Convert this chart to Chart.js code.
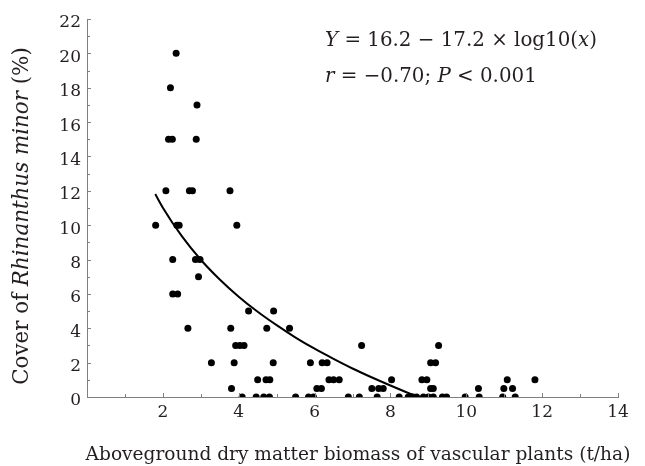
<!DOCTYPE html>
<html>
<head>
<meta charset="utf-8">
<script src="https://cdn.jsdelivr.net/npm/chart.js@4"></script>
<style>
  html, body { margin: 0; padding: 0; background: #fff; }
  #wrap { width: 645px; height: 466px; }
</style>
</head>
<body>
<div id="wrap"><canvas id="chart" width="645" height="466"></canvas></div>
<script>
// biomass (t/ha) and cover (%) of each plot
const biomass = [
  2.35,
  2.2,
  2.9,
  2.15, 2.25, 2.88,
  2.08, 2.7, 2.78, 3.77,
  1.81, 2.37, 2.43, 3.95,
  2.26, 2.86, 2.98,
  2.94,
  2.26, 2.39,
  4.26, 4.92,
  2.66, 3.79, 4.74, 5.34,
  3.92, 4.03, 4.14, 7.24, 9.27,
  3.28, 3.88, 4.91, 5.89, 6.2, 6.33, 9.06, 9.19,
  4.5, 4.72, 4.82, 6.38, 6.5, 6.65, 8.03, 8.83, 8.96, 11.08, 11.81,
  3.81, 6.06, 6.18, 7.51, 7.69, 7.81, 9.06, 9.13, 10.32, 10.99, 11.22,
  4.09, 4.46, 4.66, 4.81, 5.5, 5.84, 5.97, 6.89, 7.18, 7.65, 8.23, 8.47,
  8.59, 8.69, 8.87, 9.0, 9.13, 9.37, 9.48, 9.97, 10.34, 10.96, 11.29
];
const cover = [
  20,
  18,
  17,
  15, 15, 15,
  12, 12, 12, 12,
  10, 10, 10, 10,
  8, 8, 8,
  7,
  6, 6,
  5, 5,
  4, 4, 4, 4,
  3, 3, 3, 3, 3,
  2, 2, 2, 2, 2, 2, 2, 2,
  1, 1, 1, 1, 1, 1, 1, 1, 1, 1, 1,
  0.5, 0.5, 0.5, 0.5, 0.5, 0.5, 0.5, 0.5, 0.5, 0.5, 0.5,
  0, 0, 0, 0, 0, 0, 0, 0, 0, 0, 0, 0,
  0, 0, 0, 0, 0, 0, 0, 0, 0, 0, 0
];

// fitted curve as drawn on the figure
const fitBiomass = [1.8, 2, 2.5, 3, 3.5, 4, 4.5, 5, 5.5, 6, 6.5, 7, 7.5, 8, 8.5, 8.75];
const fitCover   = [11.81, 11.02, 9.36, 7.99, 6.84, 5.84, 4.96, 4.18, 3.46, 2.81, 2.22, 1.66, 1.15, 0.67, 0.21, 0];

const xTickValues = [2, 4, 6, 8, 10, 12, 14];
const yTickValues = [0, 2, 4, 6, 8, 10, 12, 14, 16, 18, 20, 22];

const FONT = '"DejaVu Serif", "Liberation Serif", serif';
const TEXT = '#231f20';
const AXIS = '#808080';

function drawRuns(ctx, runs, x, y, size) {
  for (const r of runs) {
    ctx.font = (r.i ? 'italic ' : '') + size + 'px ' + FONT;
    ctx.fillText(r.t, x, y);
    x += ctx.measureText(r.t).width;
  }
}
function runsWidth(ctx, runs, size) {
  let w = 0;
  for (const r of runs) {
    ctx.font = (r.i ? 'italic ' : '') + size + 'px ' + FONT;
    w += ctx.measureText(r.t).width;
  }
  return w;
}
// font size that makes a line as wide as in the figure
function fitSize(ctx, runs, width) {
  return 20 * width / runsWidth(ctx, runs, 20);
}

const decor = {
  id: 'decor',
  afterDraw(chart) {
    const { ctx, chartArea, scales: { x, y } } = chart;
    ctx.save();
    ctx.strokeStyle = AXIS;
    ctx.lineWidth = 1;
    // inward ticks, minor at odd values
    for (let v = 1; v <= 14; v++) {
      const px = Math.round(x.getPixelForValue(v)) + 0.5;
      const len = v % 2 ? 3 : 4;
      ctx.beginPath();
      ctx.moveTo(px, chartArea.bottom);
      ctx.lineTo(px, chartArea.bottom - len);
      ctx.stroke();
    }
    for (let v = 1; v <= 22; v++) {
      const py = Math.round(y.getPixelForValue(v)) + 0.5;
      const len = v % 2 ? 3 : 4;
      ctx.beginPath();
      ctx.moveTo(chartArea.left, py);
      ctx.lineTo(chartArea.left + len, py);
      ctx.stroke();
    }

    ctx.fillStyle = TEXT;
    ctx.textBaseline = 'middle';
    ctx.textAlign = 'left';

    // x title
    const xt = [{ t: 'Aboveground dry matter biomass of vascular plants (t/ha)' }];
    let s = fitSize(ctx, xt, 545);
    drawRuns(ctx, xt, 358 - runsWidth(ctx, xt, s) / 2, 455, s);

    // y title
    const yt = [{ t: 'Cover of ' }, { t: 'Rhinanthus minor', i: true }, { t: ' (%)' }];
    s = fitSize(ctx, yt, 338);
    ctx.save();
    ctx.translate(22, 216);
    ctx.rotate(-Math.PI / 2);
    drawRuns(ctx, yt, -runsWidth(ctx, yt, s) / 2, 0, s);
    ctx.restore();

    // equation
    const eq1 = [{ t: 'Y', i: true }, { t: ' = 16.2 \u2212 17.2 \u00d7 log10(' }, { t: 'x', i: true }, { t: ')' }];
    const eq2 = [{ t: 'r', i: true }, { t: ' = \u22120.70; ' }, { t: 'P', i: true }, { t: ' < 0.001' }];
    s = fitSize(ctx, eq1, 272);
    drawRuns(ctx, eq1, 325, 41, s);
    drawRuns(ctx, eq2, 325, 77, s);
    ctx.restore();
  }
};

new Chart(document.getElementById('chart'), {
  type: 'scatter',
  data: {
    datasets: [
      {
        type: 'line',
        data: fitBiomass.map((v, i) => ({ x: v, y: fitCover[i] })),
        borderColor: '#000',
        borderWidth: 2,
        pointRadius: 0,
        cubicInterpolationMode: 'monotone',
        fill: false,
        clip: 0
      },
      {
        data: biomass.map((v, i) => ({ x: v, y: cover[i] })),
        backgroundColor: '#000',
        borderWidth: 0,
        pointRadius: 3.5,
        clip: 0
      }
    ]
  },
  options: {
    responsive: false,
    animation: false,
    devicePixelRatio: 1,
    layout: { padding: { top: 19, right: 27, left: 0, bottom: 0 } },
    plugins: { legend: { display: false }, tooltip: { enabled: false } },
    scales: {
      x: {
        type: 'linear',
        min: 0,
        max: 14,
        afterBuildTicks: s => { s.ticks = xTickValues.map(v => ({ value: v })); },
        afterFit: s => { s.height = 69; },
        grid: { display: false, drawTicks: false },
        border: { display: true, color: AXIS, width: 1 },
        ticks: { font: { family: FONT, size: 17 }, color: TEXT, padding: 5, autoSkip: false, maxRotation: 0 }
      },
      y: {
        type: 'linear',
        min: 0,
        max: 22,
        afterBuildTicks: s => { s.ticks = yTickValues.map(v => ({ value: v })); },
        afterFit: s => { s.width = 87; },
        grid: { display: false, drawTicks: false },
        border: { display: true, color: AXIS, width: 1 },
        ticks: { font: { family: FONT, size: 17 }, color: TEXT, padding: 6, autoSkip: false, labelOffset: 4 }
      }
    }
  },
  plugins: [decor]
});
</script>
</body>
</html>
